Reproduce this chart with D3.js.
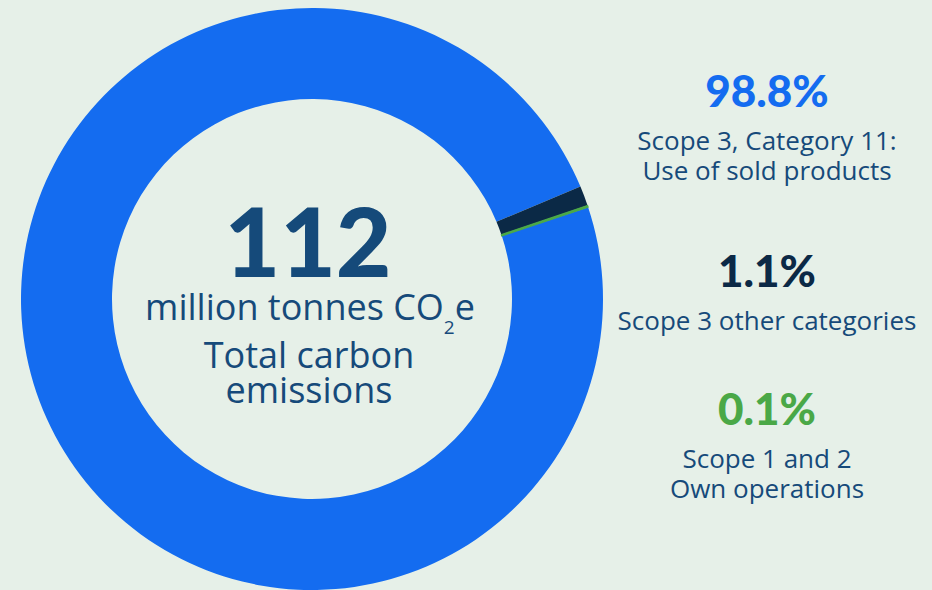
<!DOCTYPE html>
<html>
<head>
<meta charset="utf-8">
<script src="https://cdn.jsdelivr.net/npm/d3@7"></script>
<style>
  body { margin: 0; background: #e6f0e8; }
  svg { display: block; }
  .big { font-family: Lato, sans-serif; font-weight: 900; }
  .txt { font-family: "Open Sans", sans-serif; fill: #164a7a; }
</style>
</head>
<body>
<div id="chart"></div>
<script>
// data
var categories = ["Scope 3, Category 11: Use of sold products", "Scope 3 other categories", "Scope 1 and 2 Own operations"];
var shares = [98.8, 1.1, 0.1];
var labelLines = [["Scope 3, Category 11:", "Use of sold products"], ["Scope 3 other categories"], ["Scope 1 and 2", "Own operations"]];
var total = 112;
var totalUnit = "million tonnes CO";
var totalLines = ["Total carbon", "emissions"];

var colors = ["#146cf0", "#0b2946", "#4aa847"];

var width = 932, height = 590;
var cx = 312, cy = 299;
var outerR = 291, innerR = 200;

var svg = d3.select("#chart")
  .append("svg")
  .attr("width", width)
  .attr("height", height);

svg.append("rect")
  .attr("width", width)
  .attr("height", height)
  .attr("fill", "#e6f0e8");

var data = categories.map(function (c, i) {
  return { name: c, value: shares[i], color: colors[i], lines: labelLines[i] };
});

// donut, blue starts just after the small slices
var start = 71.6 * Math.PI / 180;
var pie = d3.pie()
  .sort(null)
  .value(function (d) { return d.value; })
  .startAngle(start)
  .endAngle(start + 2 * Math.PI);

var arc = d3.arc().innerRadius(innerR).outerRadius(outerR);

var g = svg.append("g")
  .attr("transform", "translate(" + cx + "," + cy + ")");

g.selectAll(".slice")
  .data(pie(data))
  .enter()
  .append("path")
  .attr("class", "slice")
  .attr("d", arc)
  .attr("fill", function (d) { return d.data.color; })
  // tiny slice gets a thin outline so it stays visible
  .attr("stroke", function (d) { return d.data.value < 0.5 ? d.data.color : "none"; })
  .attr("stroke-width", 1.2);

// center text
g.append("text")
  .attr("class", "big")
  .attr("text-anchor", "middle")
  .attr("x", -4)
  .attr("y", -22)
  .attr("font-size", 96)
  .attr("fill", "#154a7a")
  .text(total);

var unit = g.append("text")
  .attr("class", "txt")
  .attr("text-anchor", "middle")
  .attr("x", -2)
  .attr("y", 21)
  .attr("font-size", 36)
  .text(totalUnit);
unit.append("tspan").attr("font-size", 19).attr("dy", 14).text("2");
unit.append("tspan").attr("dy", -14).text("e");

g.selectAll(".tline")
  .data(totalLines)
  .enter()
  .append("text")
  .attr("class", "txt tline")
  .attr("text-anchor", "middle")
  .attr("x", -3)
  .attr("y", function (d, i) { return 69 + i * 35; })
  .attr("font-size", 36)
  .text(function (d) { return d; });

// labels on the right
var labelX = 767;
var pctY = [107, 287, 425];
var fmt = d3.format(".1f");

var lab = svg.selectAll(".lab")
  .data(data)
  .enter()
  .append("g")
  .attr("class", "lab")
  .attr("transform", function (d, i) { return "translate(" + labelX + "," + pctY[i] + ")"; });

lab.append("text")
  .attr("class", "big")
  .attr("text-anchor", "middle")
  .attr("font-size", 44)
  .attr("fill", function (d) { return d.color; })
  .text(function (d) { return fmt(d.value) + "%"; });

lab.each(function (d) {
  d3.select(this).selectAll(".sub")
    .data(d.lines)
    .enter()
    .append("text")
    .attr("class", "txt sub")
    .attr("text-anchor", "middle")
    .attr("y", function (t, i) { return 43 + i * 30; })
    .attr("font-size", 26)
    .text(function (t) { return t; });
});
</script>
</body>
</html>
